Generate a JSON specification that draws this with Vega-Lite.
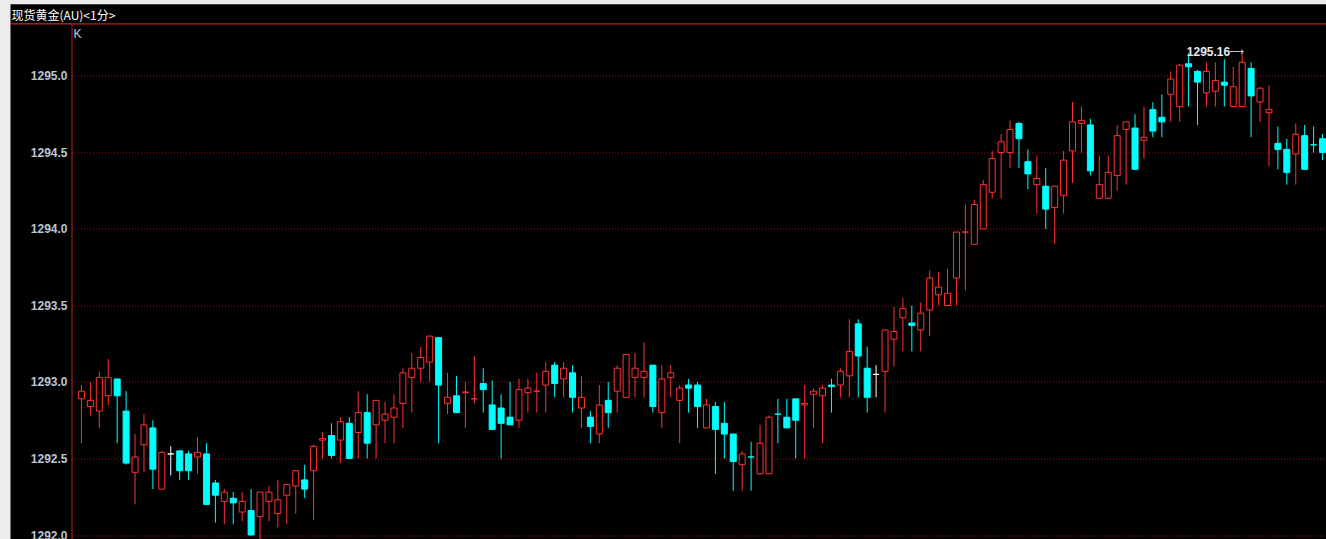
{
  "$schema": "https://vega.github.io/schema/vega-lite/v6.json",
  "width": 1260,
  "height": 516,
  "autosize": {"type": "none"},
  "padding": {"left": 71.5, "top": 23.5, "right": 0, "bottom": 0},
  "background": "#ececec",
  "config": {"view": {"fill": "#000000", "stroke": null}},
  "datasets": {
    "k": [
      {"i":0,"o":1292.89,"h":1292.98,"l":1292.60,"c":1292.94,"d":"up"},
      {"i":1,"o":1292.84,"h":1293.00,"l":1292.78,"c":1292.88,"d":"up"},
      {"i":2,"o":1292.81,"h":1293.07,"l":1292.70,"c":1293.03,"d":"up"},
      {"i":3,"o":1292.91,"h":1293.15,"l":1292.85,"c":1293.03,"d":"up"},
      {"i":4,"o":1293.02,"h":1293.02,"l":1292.60,"c":1292.91,"d":"down"},
      {"i":5,"o":1292.81,"h":1292.94,"l":1292.46,"c":1292.47,"d":"down"},
      {"i":6,"o":1292.41,"h":1292.66,"l":1292.20,"c":1292.51,"d":"up"},
      {"i":7,"o":1292.59,"h":1292.79,"l":1292.41,"c":1292.72,"d":"up"},
      {"i":8,"o":1292.70,"h":1292.75,"l":1292.30,"c":1292.43,"d":"down"},
      {"i":9,"o":1292.30,"h":1292.55,"l":1292.30,"c":1292.54,"d":"up"},
      {"i":10,"o":1292.53,"h":1292.58,"l":1292.39,"c":1292.53,"d":"doji"},
      {"i":11,"o":1292.55,"h":1292.55,"l":1292.36,"c":1292.42,"d":"down"},
      {"i":12,"o":1292.53,"h":1292.55,"l":1292.36,"c":1292.42,"d":"down"},
      {"i":13,"o":1292.51,"h":1292.64,"l":1292.40,"c":1292.54,"d":"up"},
      {"i":14,"o":1292.53,"h":1292.60,"l":1292.20,"c":1292.20,"d":"down"},
      {"i":15,"o":1292.34,"h":1292.36,"l":1292.08,"c":1292.26,"d":"down"},
      {"i":16,"o":1292.22,"h":1292.30,"l":1292.07,"c":1292.28,"d":"up"},
      {"i":17,"o":1292.24,"h":1292.28,"l":1292.07,"c":1292.21,"d":"down"},
      {"i":18,"o":1292.15,"h":1292.28,"l":1292.09,"c":1292.22,"d":"up"},
      {"i":19,"o":1292.16,"h":1292.30,"l":1292.00,"c":1292.00,"d":"down"},
      {"i":20,"o":1292.12,"h":1292.28,"l":1291.96,"c":1292.28,"d":"up"},
      {"i":21,"o":1292.22,"h":1292.32,"l":1292.09,"c":1292.28,"d":"up"},
      {"i":22,"o":1292.14,"h":1292.36,"l":1292.05,"c":1292.23,"d":"up"},
      {"i":23,"o":1292.26,"h":1292.33,"l":1292.07,"c":1292.33,"d":"up"},
      {"i":24,"o":1292.32,"h":1292.42,"l":1292.14,"c":1292.42,"d":"up"},
      {"i":25,"o":1292.36,"h":1292.46,"l":1292.24,"c":1292.30,"d":"down"},
      {"i":26,"o":1292.42,"h":1292.59,"l":1292.10,"c":1292.58,"d":"up"},
      {"i":27,"o":1292.62,"h":1292.67,"l":1292.50,"c":1292.63,"d":"up"},
      {"i":28,"o":1292.65,"h":1292.73,"l":1292.50,"c":1292.52,"d":"down"},
      {"i":29,"o":1292.62,"h":1292.77,"l":1292.47,"c":1292.74,"d":"up"},
      {"i":30,"o":1292.73,"h":1292.77,"l":1292.50,"c":1292.50,"d":"down"},
      {"i":31,"o":1292.67,"h":1292.94,"l":1292.50,"c":1292.80,"d":"up"},
      {"i":32,"o":1292.80,"h":1292.92,"l":1292.50,"c":1292.60,"d":"down"},
      {"i":33,"o":1292.72,"h":1292.88,"l":1292.50,"c":1292.88,"d":"up"},
      {"i":34,"o":1292.75,"h":1292.87,"l":1292.60,"c":1292.79,"d":"up"},
      {"i":35,"o":1292.77,"h":1292.92,"l":1292.60,"c":1292.83,"d":"up"},
      {"i":36,"o":1292.86,"h":1293.09,"l":1292.70,"c":1293.06,"d":"up"},
      {"i":37,"o":1293.03,"h":1293.19,"l":1292.80,"c":1293.09,"d":"up"},
      {"i":38,"o":1293.09,"h":1293.23,"l":1293.00,"c":1293.16,"d":"up"},
      {"i":39,"o":1293.13,"h":1293.30,"l":1293.00,"c":1293.30,"d":"up"},
      {"i":40,"o":1293.29,"h":1293.29,"l":1292.60,"c":1292.98,"d":"down"},
      {"i":41,"o":1292.86,"h":1293.06,"l":1292.79,"c":1292.90,"d":"up"},
      {"i":42,"o":1292.91,"h":1293.04,"l":1292.80,"c":1292.80,"d":"down"},
      {"i":43,"o":1292.93,"h":1293.00,"l":1292.70,"c":1292.935,"d":"up"},
      {"i":44,"o":1292.89,"h":1293.17,"l":1292.86,"c":1292.89,"d":"up"},
      {"i":45,"o":1292.99,"h":1293.09,"l":1292.80,"c":1292.95,"d":"down"},
      {"i":46,"o":1292.85,"h":1293.01,"l":1292.69,"c":1292.69,"d":"down"},
      {"i":47,"o":1292.83,"h":1292.92,"l":1292.50,"c":1292.73,"d":"down"},
      {"i":48,"o":1292.77,"h":1293.00,"l":1292.72,"c":1292.72,"d":"down"},
      {"i":49,"o":1292.75,"h":1293.02,"l":1292.70,"c":1292.95,"d":"up"},
      {"i":50,"o":1292.93,"h":1293.02,"l":1292.80,"c":1292.96,"d":"up"},
      {"i":51,"o":1292.94,"h":1293.06,"l":1292.80,"c":1292.94,"d":"up"},
      {"i":52,"o":1292.98,"h":1293.13,"l":1292.80,"c":1293.07,"d":"up"},
      {"i":53,"o":1293.11,"h":1293.13,"l":1292.90,"c":1292.99,"d":"down"},
      {"i":54,"o":1293.02,"h":1293.13,"l":1292.90,"c":1293.09,"d":"up"},
      {"i":55,"o":1293.06,"h":1293.11,"l":1292.80,"c":1292.90,"d":"down"},
      {"i":56,"o":1292.83,"h":1293.04,"l":1292.70,"c":1292.90,"d":"up"},
      {"i":57,"o":1292.77,"h":1292.81,"l":1292.60,"c":1292.71,"d":"down"},
      {"i":58,"o":1292.66,"h":1292.98,"l":1292.60,"c":1292.85,"d":"up"},
      {"i":59,"o":1292.88,"h":1293.00,"l":1292.70,"c":1292.80,"d":"down"},
      {"i":60,"o":1292.94,"h":1293.11,"l":1292.80,"c":1293.09,"d":"up"},
      {"i":61,"o":1292.90,"h":1293.18,"l":1292.90,"c":1293.18,"d":"up"},
      {"i":62,"o":1293.03,"h":1293.19,"l":1292.90,"c":1293.09,"d":"up"},
      {"i":63,"o":1293.03,"h":1293.26,"l":1292.90,"c":1293.07,"d":"up"},
      {"i":64,"o":1293.11,"h":1293.11,"l":1292.80,"c":1292.84,"d":"down"},
      {"i":65,"o":1292.80,"h":1293.11,"l":1292.70,"c":1293.02,"d":"up"},
      {"i":66,"o":1293.03,"h":1293.11,"l":1292.90,"c":1293.06,"d":"up"},
      {"i":67,"o":1292.88,"h":1292.98,"l":1292.60,"c":1292.96,"d":"up"},
      {"i":68,"o":1292.98,"h":1293.02,"l":1292.80,"c":1292.96,"d":"down"},
      {"i":69,"o":1292.98,"h":1293.00,"l":1292.70,"c":1292.84,"d":"down"},
      {"i":70,"o":1292.70,"h":1292.89,"l":1292.70,"c":1292.85,"d":"up"},
      {"i":71,"o":1292.84,"h":1292.87,"l":1292.40,"c":1292.69,"d":"down"},
      {"i":72,"o":1292.73,"h":1292.87,"l":1292.50,"c":1292.66,"d":"down"},
      {"i":73,"o":1292.66,"h":1292.66,"l":1292.29,"c":1292.48,"d":"down"},
      {"i":74,"o":1292.46,"h":1292.55,"l":1292.29,"c":1292.53,"d":"up"},
      {"i":75,"o":1292.51,"h":1292.61,"l":1292.29,"c":1292.51,"d":"down"},
      {"i":76,"o":1292.40,"h":1292.72,"l":1292.40,"c":1292.60,"d":"up"},
      {"i":77,"o":1292.40,"h":1292.78,"l":1292.40,"c":1292.77,"d":"up"},
      {"i":78,"o":1292.79,"h":1292.89,"l":1292.60,"c":1292.79,"d":"down"},
      {"i":79,"o":1292.77,"h":1292.89,"l":1292.70,"c":1292.70,"d":"down"},
      {"i":80,"o":1292.89,"h":1292.89,"l":1292.50,"c":1292.75,"d":"down"},
      {"i":81,"o":1292.85,"h":1292.98,"l":1292.50,"c":1292.86,"d":"up"},
      {"i":82,"o":1292.92,"h":1292.96,"l":1292.70,"c":1292.94,"d":"up"},
      {"i":83,"o":1292.91,"h":1292.98,"l":1292.60,"c":1292.96,"d":"up"},
      {"i":84,"o":1292.98,"h":1293.02,"l":1292.80,"c":1292.97,"d":"down"},
      {"i":85,"o":1292.98,"h":1293.09,"l":1292.90,"c":1293.07,"d":"up"},
      {"i":86,"o":1293.04,"h":1293.41,"l":1292.90,"c":1293.20,"d":"up"},
      {"i":87,"o":1293.38,"h":1293.41,"l":1292.90,"c":1293.17,"d":"down"},
      {"i":88,"o":1293.09,"h":1293.23,"l":1292.80,"c":1292.90,"d":"down"},
      {"i":89,"o":1293.05,"h":1293.11,"l":1292.90,"c":1293.05,"d":"doji"},
      {"i":90,"o":1293.07,"h":1293.34,"l":1292.80,"c":1293.34,"d":"up"},
      {"i":91,"o":1293.28,"h":1293.49,"l":1293.10,"c":1293.33,"d":"up"},
      {"i":92,"o":1293.42,"h":1293.55,"l":1293.20,"c":1293.48,"d":"up"},
      {"i":93,"o":1293.385,"h":1293.50,"l":1293.20,"c":1293.37,"d":"down"},
      {"i":94,"o":1293.34,"h":1293.52,"l":1293.20,"c":1293.45,"d":"up"},
      {"i":95,"o":1293.47,"h":1293.73,"l":1293.30,"c":1293.68,"d":"up"},
      {"i":96,"o":1293.57,"h":1293.72,"l":1293.50,"c":1293.62,"d":"up"},
      {"i":97,"o":1293.50,"h":1293.74,"l":1293.50,"c":1293.58,"d":"up"},
      {"i":98,"o":1293.68,"h":1293.98,"l":1293.50,"c":1293.98,"d":"up"},
      {"i":99,"o":1293.98,"h":1294.16,"l":1293.60,"c":1293.98,"d":"up"},
      {"i":100,"o":1293.90,"h":1294.19,"l":1293.90,"c":1294.16,"d":"up"},
      {"i":101,"o":1294.00,"h":1294.32,"l":1294.00,"c":1294.29,"d":"up"},
      {"i":102,"o":1294.24,"h":1294.51,"l":1294.20,"c":1294.46,"d":"up"},
      {"i":103,"o":1294.50,"h":1294.62,"l":1294.20,"c":1294.57,"d":"up"},
      {"i":104,"o":1294.50,"h":1294.71,"l":1294.40,"c":1294.65,"d":"up"},
      {"i":105,"o":1294.69,"h":1294.70,"l":1294.40,"c":1294.59,"d":"down"},
      {"i":106,"o":1294.44,"h":1294.52,"l":1294.26,"c":1294.36,"d":"down"},
      {"i":107,"o":1294.29,"h":1294.48,"l":1294.10,"c":1294.33,"d":"up"},
      {"i":108,"o":1294.28,"h":1294.40,"l":1294.00,"c":1294.13,"d":"down"},
      {"i":109,"o":1294.14,"h":1294.28,"l":1293.90,"c":1294.28,"d":"up"},
      {"i":110,"o":1294.22,"h":1294.51,"l":1294.10,"c":1294.45,"d":"up"},
      {"i":111,"o":1294.51,"h":1294.83,"l":1294.30,"c":1294.70,"d":"up"},
      {"i":112,"o":1294.69,"h":1294.80,"l":1294.50,"c":1294.71,"d":"up"},
      {"i":113,"o":1294.68,"h":1294.72,"l":1294.35,"c":1294.38,"d":"down"},
      {"i":114,"o":1294.20,"h":1294.48,"l":1294.20,"c":1294.29,"d":"up"},
      {"i":115,"o":1294.20,"h":1294.48,"l":1294.20,"c":1294.37,"d":"up"},
      {"i":116,"o":1294.35,"h":1294.68,"l":1294.25,"c":1294.61,"d":"up"},
      {"i":117,"o":1294.65,"h":1294.70,"l":1294.29,"c":1294.70,"d":"up"},
      {"i":118,"o":1294.66,"h":1294.75,"l":1294.39,"c":1294.39,"d":"down"},
      {"i":119,"o":1294.58,"h":1294.80,"l":1294.46,"c":1294.60,"d":"up"},
      {"i":120,"o":1294.78,"h":1294.83,"l":1294.60,"c":1294.64,"d":"down"},
      {"i":121,"o":1294.73,"h":1294.88,"l":1294.60,"c":1294.70,"d":"down"},
      {"i":122,"o":1294.88,"h":1295.03,"l":1294.70,"c":1294.98,"d":"up"},
      {"i":123,"o":1294.80,"h":1295.08,"l":1294.70,"c":1295.07,"d":"up"},
      {"i":124,"o":1295.08,"h":1295.15,"l":1294.80,"c":1295.06,"d":"down"},
      {"i":125,"o":1295.03,"h":1295.04,"l":1294.68,"c":1294.96,"d":"down"},
      {"i":126,"o":1294.89,"h":1295.09,"l":1294.80,"c":1295.03,"d":"up"},
      {"i":127,"o":1294.90,"h":1295.09,"l":1294.80,"c":1294.97,"d":"up"},
      {"i":128,"o":1294.96,"h":1295.11,"l":1294.80,"c":1294.94,"d":"down"},
      {"i":129,"o":1294.80,"h":1295.06,"l":1294.80,"c":1294.93,"d":"up"},
      {"i":130,"o":1294.80,"h":1295.16,"l":1294.80,"c":1295.09,"d":"up"},
      {"i":131,"o":1295.05,"h":1295.09,"l":1294.60,"c":1294.87,"d":"down"},
      {"i":132,"o":1294.83,"h":1294.93,"l":1294.70,"c":1294.92,"d":"up"},
      {"i":133,"o":1294.76,"h":1294.94,"l":1294.41,"c":1294.78,"d":"up"},
      {"i":134,"o":1294.56,"h":1294.67,"l":1294.39,"c":1294.52,"d":"down"},
      {"i":135,"o":1294.52,"h":1294.59,"l":1294.29,"c":1294.37,"d":"down"},
      {"i":136,"o":1294.49,"h":1294.69,"l":1294.29,"c":1294.62,"d":"up"},
      {"i":137,"o":1294.61,"h":1294.68,"l":1294.39,"c":1294.39,"d":"down"},
      {"i":138,"o":1294.55,"h":1294.67,"l":1294.50,"c":1294.55,"d":"down"},
      {"i":139,"o":1294.59,"h":1294.62,"l":1294.45,"c":1294.50,"d":"down"}
    ],
    "mx": [{"i":130,"h":1295.16,"t":"1295.16","a":"⟶"}]
  },
  "resolve": {"axis": {"y": "independent"}},
  "layer": [
    {
      "data": {"name": "k"},
      "mark": {"type": "rule", "strokeWidth": 1},
      "encoding": {
        "x": {"field": "i", "type": "quantitative", "scale": {"domain": [-0.5556, 139.4444], "nice": false, "zero": false}, "axis": null},
        "y": {"field": "l", "type": "quantitative", "scale": {"domain": [1291.9706, 1295.3431], "nice": false, "zero": false},
              "axis": {"orient": "left", "offset": 30.75, "domainColor": "#000000", "domainWidth": 61.5, "domainCap": "butt", "ticks": false, "labels": false, "grid": false, "title": null}},
        "y2": {"field": "h"},
        "stroke": {"field": "d", "type": "nominal", "scale": {"domain": ["up", "down", "doji"], "range": ["#ff3232", "#00ffff", "#ffffff"]}, "legend": null}
      }
    },
    {
      "data": {"name": "k"},
      "mark": {"type": "bar", "size": 6, "strokeWidth": 1, "orient": "vertical"},
      "encoding": {
        "x": {"field": "i", "type": "quantitative", "scale": {"domain": [-0.5556, 139.4444], "nice": false, "zero": false}, "axis": null},
        "y": {"field": "o", "type": "quantitative", "scale": {"domain": [1291.9706, 1295.3431], "nice": false, "zero": false},
              "axis": {"orient": "left", "values": [1292, 1292.5, 1293, 1293.5, 1294, 1294.5, 1295], "format": ".1f",
                       "labelColor": "#b9c6d6", "labelFont": "Liberation Sans", "labelFontWeight": "bold", "labelFontSize": 12,
                       "labelPadding": 4.5, "labelFlush": false, "ticks": false, "tickSize": 0,
                       "domainColor": "#c42020", "domainWidth": 1,
                       "grid": true, "gridColor": "#a01212", "gridDash": [1, 2], "gridWidth": 1,
                       "title": "K", "titleAngle": 0, "titleX": 1.5, "titleY": 10, "titleAlign": "left", "titleBaseline": "middle",
                       "titleFont": "Liberation Sans", "titleFontSize": 12, "titleFontWeight": "normal", "titleColor": "#c0ccd8"}},
        "y2": {"field": "c"},
        "stroke": {"field": "d", "type": "nominal", "scale": {"domain": ["up", "down", "doji"], "range": ["#ff3232", "#00ffff", "#ffffff"]}, "legend": null},
        "fill": {"field": "d", "type": "nominal", "scale": {"domain": ["up", "down", "doji"], "range": ["#000000", "#00ffff", "#ffffff"]}, "legend": null}
      }
    },
    {
      "data": {"name": "mx"},
      "mark": {"type": "text", "align": "right", "baseline": "middle", "dx": -12, "font": "Liberation Sans", "fontSize": 12, "fontWeight": "bold", "color": "#e6eaf6"},
      "encoding": {
        "x": {"field": "i", "type": "quantitative", "scale": {"domain": [-0.5556, 139.4444], "nice": false, "zero": false}, "axis": null},
        "y": {"field": "h", "type": "quantitative", "scale": {"domain": [1291.9706, 1295.3431], "nice": false, "zero": false},
              "axis": {"orient": "left", "values": [1295.3431], "domain": false, "labels": false,
                       "ticks": true, "tickSize": 61.5, "tickWidth": 19.5, "tickColor": "#000000", "tickOffset": -9.75, "tickCap": "butt",
                       "grid": true, "gridColor": "#000000", "gridWidth": 19.5, "gridDash": [], "gridCap": "butt", "title": null}},
        "text": {"field": "t", "type": "nominal"}
      }
    },
    {
      "data": {"name": "mx"},
      "mark": {"type": "text", "align": "right", "baseline": "middle", "dx": 2, "font": "DejaVu Sans", "fontSize": 11, "color": "#c0c0c0"},
      "encoding": {
        "x": {"field": "i", "type": "quantitative", "scale": {"domain": [-0.5556, 139.4444], "nice": false, "zero": false}, "axis": null},
        "y": {"field": "h", "type": "quantitative", "scale": {"domain": [1291.9706, 1295.3431], "nice": false, "zero": false},
              "axis": {"orient": "left", "values": [1295.3431], "domain": false, "labels": false,
                       "ticks": true, "tickSize": 61.5, "tickWidth": 1, "tickColor": "#c42020",
                       "grid": true, "gridColor": "#c42020", "gridWidth": 1, "gridDash": [],
                       "title": "现货黄金(AU)<1分>", "titleAngle": 0, "titleX": -60.5, "titleY": -8.5, "titleAlign": "left", "titleBaseline": "middle",
                       "titleFont": "Noto Sans CJK SC", "titleFontSize": 12, "titleFontWeight": "normal", "titleColor": "#ffffff"}},
        "text": {"field": "a", "type": "nominal"}
      }
    }
  ]
}
